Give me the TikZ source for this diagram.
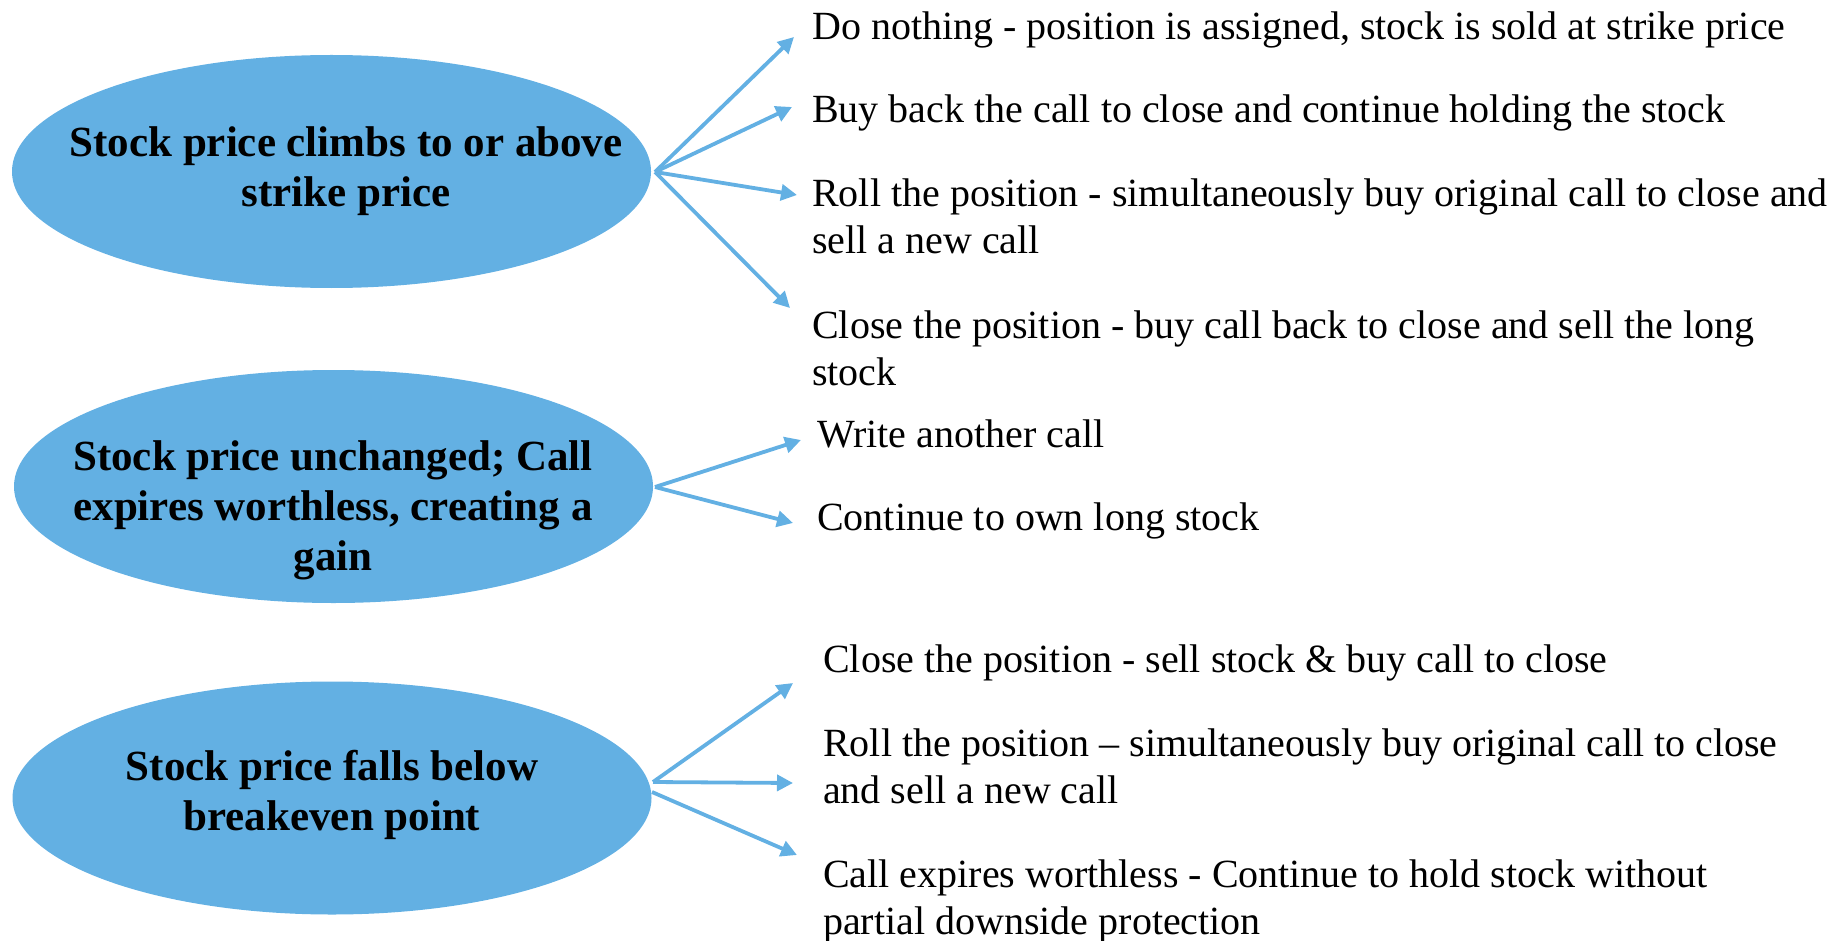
\documentclass[tikz,border=0pt]{standalone}
\usepackage{fontspec}
\setmainfont{Liberation Serif}
\usetikzlibrary{shapes.geometric,arrows.meta}
\definecolor{ovalblue}{RGB}{99,176,227}
\begin{document}
\begin{tikzpicture}[x=1pt,y=-1pt,
  oval/.style={ellipse, fill=ovalblue, draw=none, minimum width=639pt, minimum height=233pt, inner sep=0pt},
  ovaltext/.style={font=\fontsize{43}{50}\selectfont\bfseries, align=center, inner sep=0pt, anchor=base},
  opt/.style={font=\fontsize{40}{47}\selectfont, align=left, anchor=base west, inner sep=0pt},
  arr/.style={draw=ovalblue, line width=3.8pt, -{Triangle[length=16pt,width=16pt]}}]
\useasboundingbox (0,0) rectangle (1835,941);

% ovals
\node[oval] (e1) at (331.5,171.5) {};
\node[oval] (e2) at (333.5,486.5) {};
\node[oval] (e3) at (332,798) {};
% (anchor base = baseline of the last line)
\node[ovaltext] (e1t) at (346,207) {Stock price climbs to or above\\strike price};
\node[ovaltext] (e2t) at (333,570) {Stock price unchanged; Call\\expires worthless, creating a\\gain};
\node[ovaltext] (e3t) at (332,830) {Stock price falls below\\breakeven point};

% options
\node[opt] (a1) at (812,40) {Do nothing - position is assigned, stock is sold at strike price};
\node[opt] (a2) at (812,123) {Buy back the call to close and continue holding the stock};
\node[opt] (a3) at (812,254) {Roll the position - simultaneously buy original call to close and\\sell a new call};
\node[opt] (a4) at (812,385) {Close the position - buy call back to close and sell the long\\stock};
\node[opt] (b1) at (817,447) {Write another call};
\node[opt] (b2) at (817,530) {Continue to own long stock};
\node[opt] (c1) at (823,672) {Close the position - sell stock \& buy call to close};
\node[opt] (c2) at (823,803) {Roll the position – simultaneously buy original call to close\\and sell a new call};
\node[opt] (c3) at (823,934) {Call expires worthless - Continue to hold stock without\\partial downside protection};

% arrow origins and tips
\coordinate (o1) at (655,172);
\coordinate (o2) at (655,487);
\coordinate (o3) at (653,782);
\coordinate (o3b) at (652,792);
\coordinate (p1) at (794,37);
\coordinate (p2) at (792,107);
\coordinate (p3) at (797,195);
\coordinate (p4) at (790,308);
\coordinate (q1) at (801,440);
\coordinate (q2) at (793,523);
\coordinate (r1) at (793,683);
\coordinate (r2) at (793,783);
\coordinate (r3) at (797,855);

\draw[arr] (o1) -- (p1);
\draw[arr] (o1) -- (p2);
\draw[arr] (o1) -- (p3);
\draw[arr] (o1) -- (p4);
\draw[arr] (o2) -- (q1);
\draw[arr] (o2) -- (q2);
\draw[arr] (o3) -- (r1);
\draw[arr] (o3) -- (r2);
\draw[arr] (o3b) -- (r3);
\end{tikzpicture}
\end{document}
